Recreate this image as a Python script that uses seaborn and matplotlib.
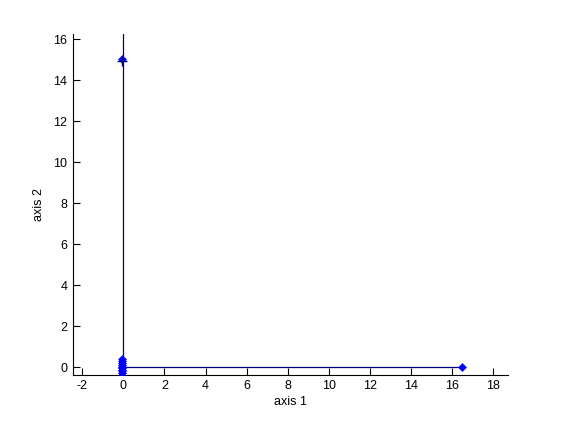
import matplotlib
matplotlib.use("Agg")
import matplotlib.pyplot as plt
import seaborn as sns
import pandas as pd

# Data
point_x = [16.5, -0.08, -0.08, -0.08, -0.08, -0.08, -0.06, -0.08, -0.08, -0.08, -0.06, -0.08]
point_y = [0.0, 15.04, 0.42, 0.3, 0.2, 0.1, 0.02, -0.05, -0.12, -0.2, -0.28, 0.0]
cross_x = [-0.05]
cross_y = [14.95]
vline_x = [0.0, 0.0]
vline_y = [0.0, 16.28]
hline_x = [0.0, 16.5]
hline_y = [0.0, 0.0]
x_ticks = [-2, 0, 2, 4, 6, 8, 10, 12, 14, 16, 18]
y_ticks = [0, 2, 4, 6, 8, 10, 12, 14, 16]

sns.set_theme(style="white")
plt.rcParams['font.family'] = ['Liberation Sans', 'DejaVu Sans']

fig = plt.figure(figsize=(5.61, 4.21), dpi=100)
ax = fig.add_axes([0.13, 0.11, 0.775, 0.81])

sns.lineplot(x=vline_x, y=vline_y, sort=False, estimator=None, errorbar=None,
             color="#00007f", linewidth=0.9, ax=ax)
sns.lineplot(x=hline_x, y=hline_y, sort=False, estimator=None, errorbar=None,
             color="#00007f", linewidth=0.9, ax=ax)
sns.scatterplot(x=point_x, y=point_y, marker="D", s=16, color="#0000ff",
                edgecolor="#0000ff", linewidth=0.5, ax=ax, zorder=3)
sns.scatterplot(x=cross_x, y=cross_y, marker="+", s=50, color="#00007f",
                linewidth=1.0, ax=ax, zorder=4)

ax.set_xlim(-2.45, 18.7)
ax.set_ylim(-0.36, 16.28)
ax.set_xticks(x_ticks)
ax.set_yticks(y_ticks)
ax.set_xticklabels([str(t) for t in x_ticks])
ax.set_yticklabels([str(t) for t in y_ticks])
ax.tick_params(axis="both", which="major", direction="in", length=5, width=0.8,
               colors="black", labelsize=9, bottom=True, left=True, pad=4)
for side in ["top", "right"]:
    ax.spines[side].set_visible(False)
for side in ["left", "bottom"]:
    ax.spines[side].set_color("black")
    ax.spines[side].set_linewidth(0.8)
ax.set_xlabel("axis 1", fontsize=9, color="black", labelpad=3)
ax.set_ylabel("axis 2", fontsize=9, color="black", labelpad=6)
ax.grid(False)
fig.patch.set_facecolor("white")
ax.set_facecolor("white")

fig.savefig("out.png", dpi=100, facecolor="white")
